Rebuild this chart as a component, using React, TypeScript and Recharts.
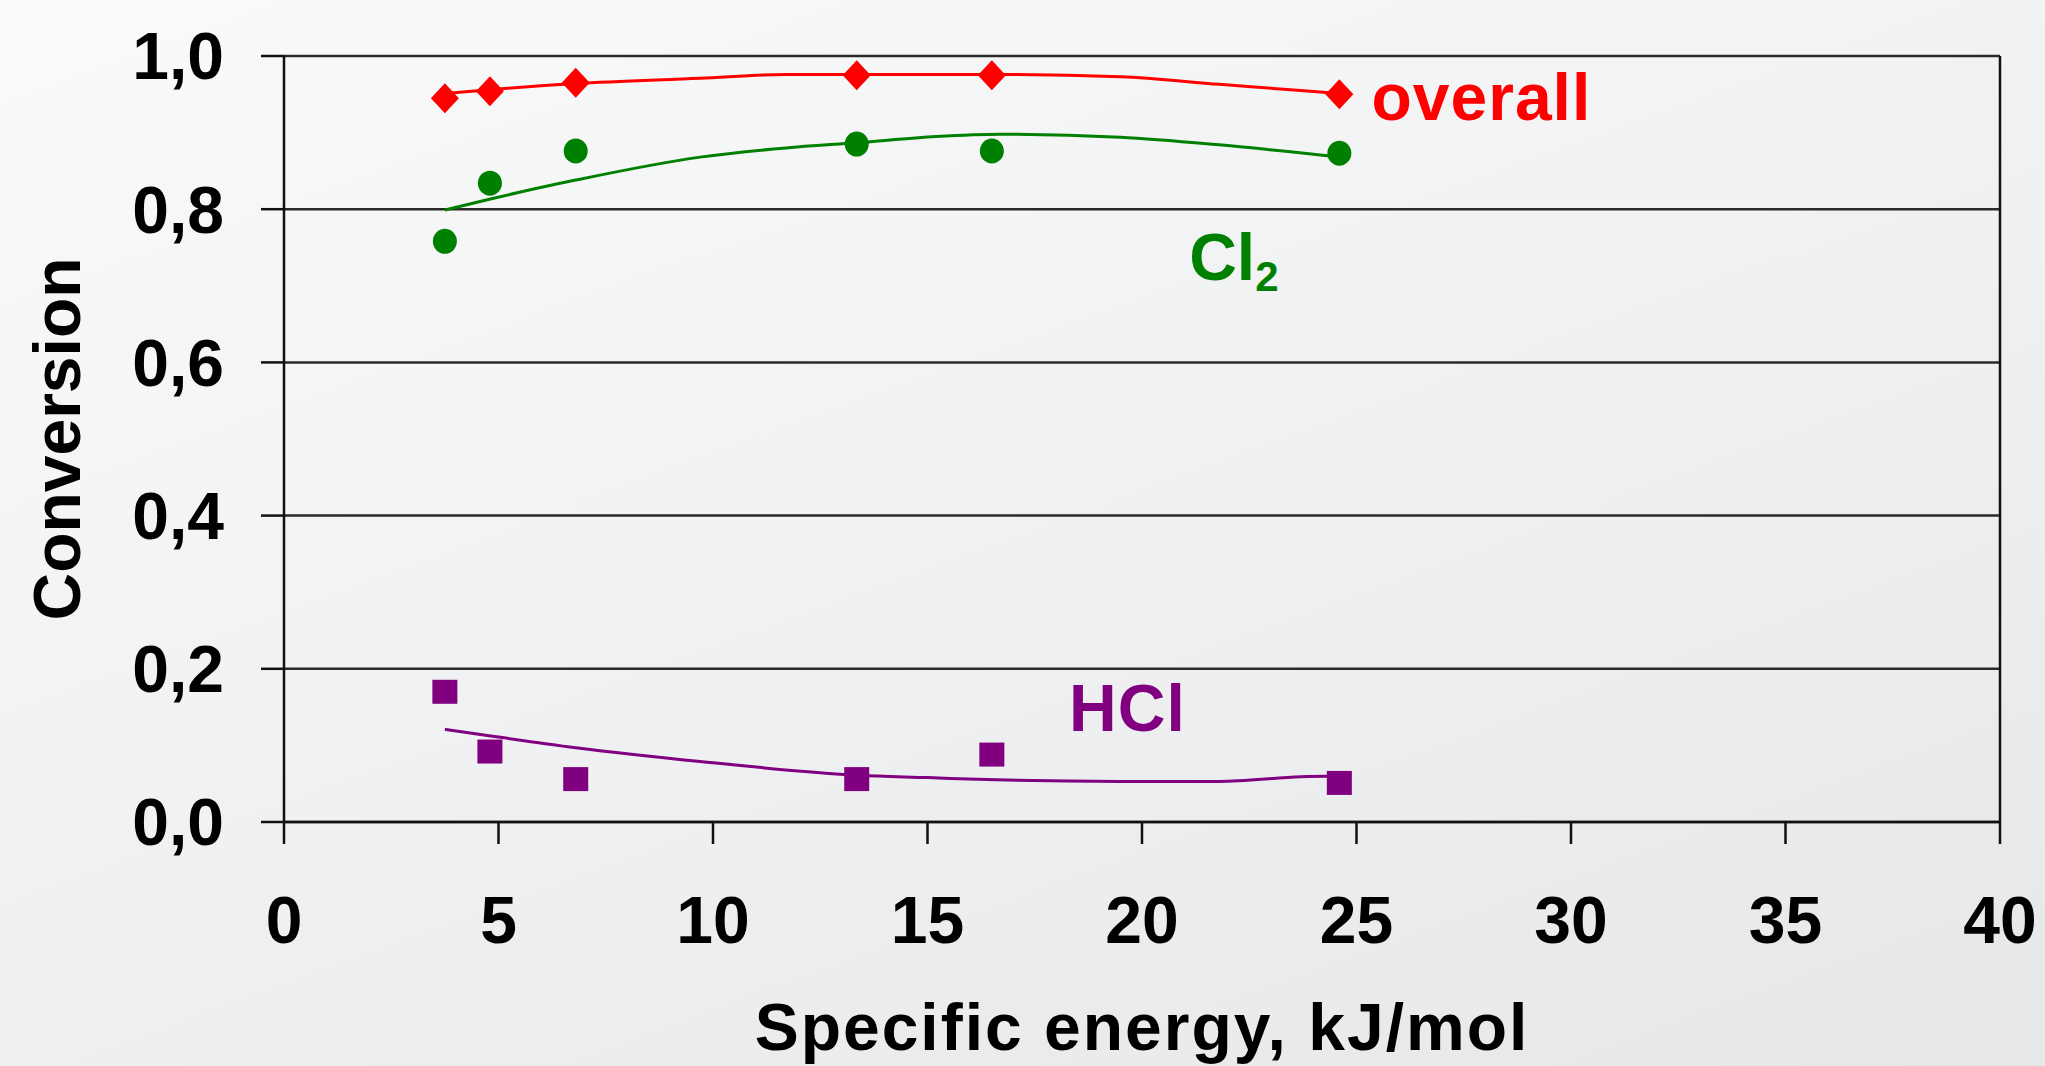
import {
  ComposedChart,
  Line,
  Scatter,
  XAxis,
  YAxis,
  CartesianGrid,
  ReferenceLine,
} from 'recharts';

// measured energies (kJ/mol)
const energy = [3.75, 4.8, 6.8, 13.35, 16.5, 24.6];
const overallConv = [0.945, 0.954, 0.965, 0.975, 0.975, 0.95];
const cl2Conv = [0.758, 0.834, 0.876, 0.885, 0.876, 0.873];
const hclConv = [0.17, 0.092, 0.056, 0.056, 0.088, 0.051];

// trend curves
const overallTrendX = [3.75, 5, 6.8, 9.7, 11.7, 13.4, 15, 16.7, 19.5, 21.8, 23.7, 24.6];
const overallTrendY = [0.951, 0.957, 0.964, 0.971, 0.976, 0.976, 0.976, 0.976, 0.973, 0.963, 0.955, 0.951];
const cl2TrendX = [3.75, 4.86, 6.8, 9.7, 11.7, 13.4, 15.2, 16.7, 19.5, 21.8, 24.6];
const cl2TrendY = [0.799, 0.814, 0.838, 0.868, 0.88, 0.887, 0.895, 0.898, 0.894, 0.884, 0.868];
const hclTrendX = [3.75, 4.86, 6.8, 9.7, 13.4, 15, 16.6, 19.5, 21.8, 23.7, 24.6];
const hclTrendY = [0.121, 0.112, 0.097, 0.079, 0.061, 0.058, 0.055, 0.053, 0.053, 0.059, 0.06];

const xTicks = [0, 5, 10, 15, 20, 25, 30, 35, 40];
const yTicks = [0, 0.2, 0.4, 0.6, 0.8, 1.0];

// series name labels, anchored in data units
const labelX = [25.35, 21.1, 18.3];
const labelY = [0.916, 0.708, 0.119];

const RED = '#ff0000';
const GREEN = '#008000';
const PURPLE = '#800080';
const FONT = '"Liberation Sans", Arial, sans-serif';

const zip = (xs: number[], ys: number[]) => xs.map((x, i) => ({ x, y: ys[i] }));

const Diamond = (p: any) => (
  <polygon
    points={`${p.cx},${p.cy - 15} ${p.cx + 14},${p.cy} ${p.cx},${p.cy + 15} ${p.cx - 14},${p.cy}`}
    fill={RED}
  />
);
const Dot = (p: any) => <ellipse cx={p.cx} cy={p.cy} rx={12} ry={12.5} fill={GREEN} />;
const Square = (p: any) => (
  <rect x={p.cx - 12.5} y={p.cy - 12} width={25} height={24} fill={PURPLE} />
);

const NameLabel = (p: any) => {
  const { cx, cy, payload } = p;
  if (payload.name === 'Cl2') {
    return (
      <text x={cx} y={cy} fill={GREEN} fontSize={66} fontWeight={700} fontFamily={FONT}>
        Cl
        <tspan fontSize={42} dy={11}>2</tspan>
      </text>
    );
  }
  return (
    <text
      x={cx}
      y={cy}
      fill={payload.color}
      fontSize={66}
      fontWeight={700}
      fontFamily={FONT}
      letterSpacing={1}
    >
      {payload.name}
    </text>
  );
};

const XTitle = (p: any) => {
  const vb = p.viewBox;
  return (
    <text
      x={vb.x + vb.width / 2}
      y={1050}
      textAnchor="middle"
      fontSize={66}
      fontWeight={700}
      fontFamily={FONT}
      letterSpacing={2}
      fill="#000"
    >
      Specific energy, kJ/mol
    </text>
  );
};

const YTitle = (p: any) => {
  const vb = p.viewBox;
  const cy = vb.y + vb.height / 2;
  return (
    <text
      x={80}
      y={cy}
      transform={`rotate(-90, 80, ${cy})`}
      textAnchor="middle"
      fontSize={66}
      fontWeight={700}
      fontFamily={FONT}
      fill="#000"
    >
      Conversion
    </text>
  );
};

export default function App() {
  const overallPts = zip(energy, overallConv);
  const cl2Pts = zip(energy, cl2Conv);
  const hclPts = zip(energy, hclConv);
  const names = ['overall', 'Cl2', 'HCl'];
  const colors = [RED, GREEN, PURPLE];
  const labelPts = labelX.map((x, i) => ({ x, y: labelY[i], name: names[i], color: colors[i] }));

  const tickStyle = { fill: '#000', fontSize: 66, fontWeight: 700, fontFamily: FONT };

  return (
    <div
      style={{
        position: 'absolute',
        left: 0,
        top: 0,
        width: 2045,
        height: 1066,
        background: 'linear-gradient(160deg, #fafafa 0%, #f1f2f3 45%, #e6e7e9 100%)',
      }}
    >
      <ComposedChart width={2045} height={1066} margin={{ top: 56, right: 45, bottom: 0, left: 0 }}>
        <CartesianGrid vertical={false} stroke="#2a2a2a" strokeWidth={2.5} />
        <XAxis
          type="number"
          dataKey="x"
          domain={[0, 40]}
          ticks={xTicks}
          interval={0}
          height={244}
          tickSize={22}
          tickMargin={52}
          tick={tickStyle}
          axisLine={{ stroke: '#111', strokeWidth: 2.5 }}
          tickLine={{ stroke: '#111', strokeWidth: 2.5 }}
          label={<XTitle />}
        />
        <YAxis
          type="number"
          dataKey="y"
          domain={[0, 1]}
          ticks={yTicks}
          interval={0}
          width={284}
          tickSize={23}
          tickMargin={37}
          tick={tickStyle}
          tickFormatter={(v: number) => v.toFixed(1).replace('.', ',')}
          axisLine={{ stroke: '#111', strokeWidth: 2.5 }}
          tickLine={{ stroke: '#111', strokeWidth: 2.5 }}
          label={<YTitle />}
        />
        <ReferenceLine x={40} stroke="#111" strokeWidth={2.5} />

        <Line data={zip(overallTrendX, overallTrendY)} dataKey="y" type="monotone" stroke={RED} strokeWidth={3} dot={false} activeDot={false} isAnimationActive={false} />
        <Line data={zip(cl2TrendX, cl2TrendY)} dataKey="y" type="monotone" stroke={GREEN} strokeWidth={3} dot={false} activeDot={false} isAnimationActive={false} />
        <Line data={zip(hclTrendX, hclTrendY)} dataKey="y" type="monotone" stroke={PURPLE} strokeWidth={3} dot={false} activeDot={false} isAnimationActive={false} />

        <Scatter data={overallPts} dataKey="y" shape={Diamond} isAnimationActive={false} />
        <Scatter data={cl2Pts} dataKey="y" shape={Dot} isAnimationActive={false} />
        <Scatter data={hclPts} dataKey="y" shape={Square} isAnimationActive={false} />
        <Scatter data={labelPts} dataKey="y" shape={NameLabel} isAnimationActive={false} />
      </ComposedChart>
    </div>
  );
}
